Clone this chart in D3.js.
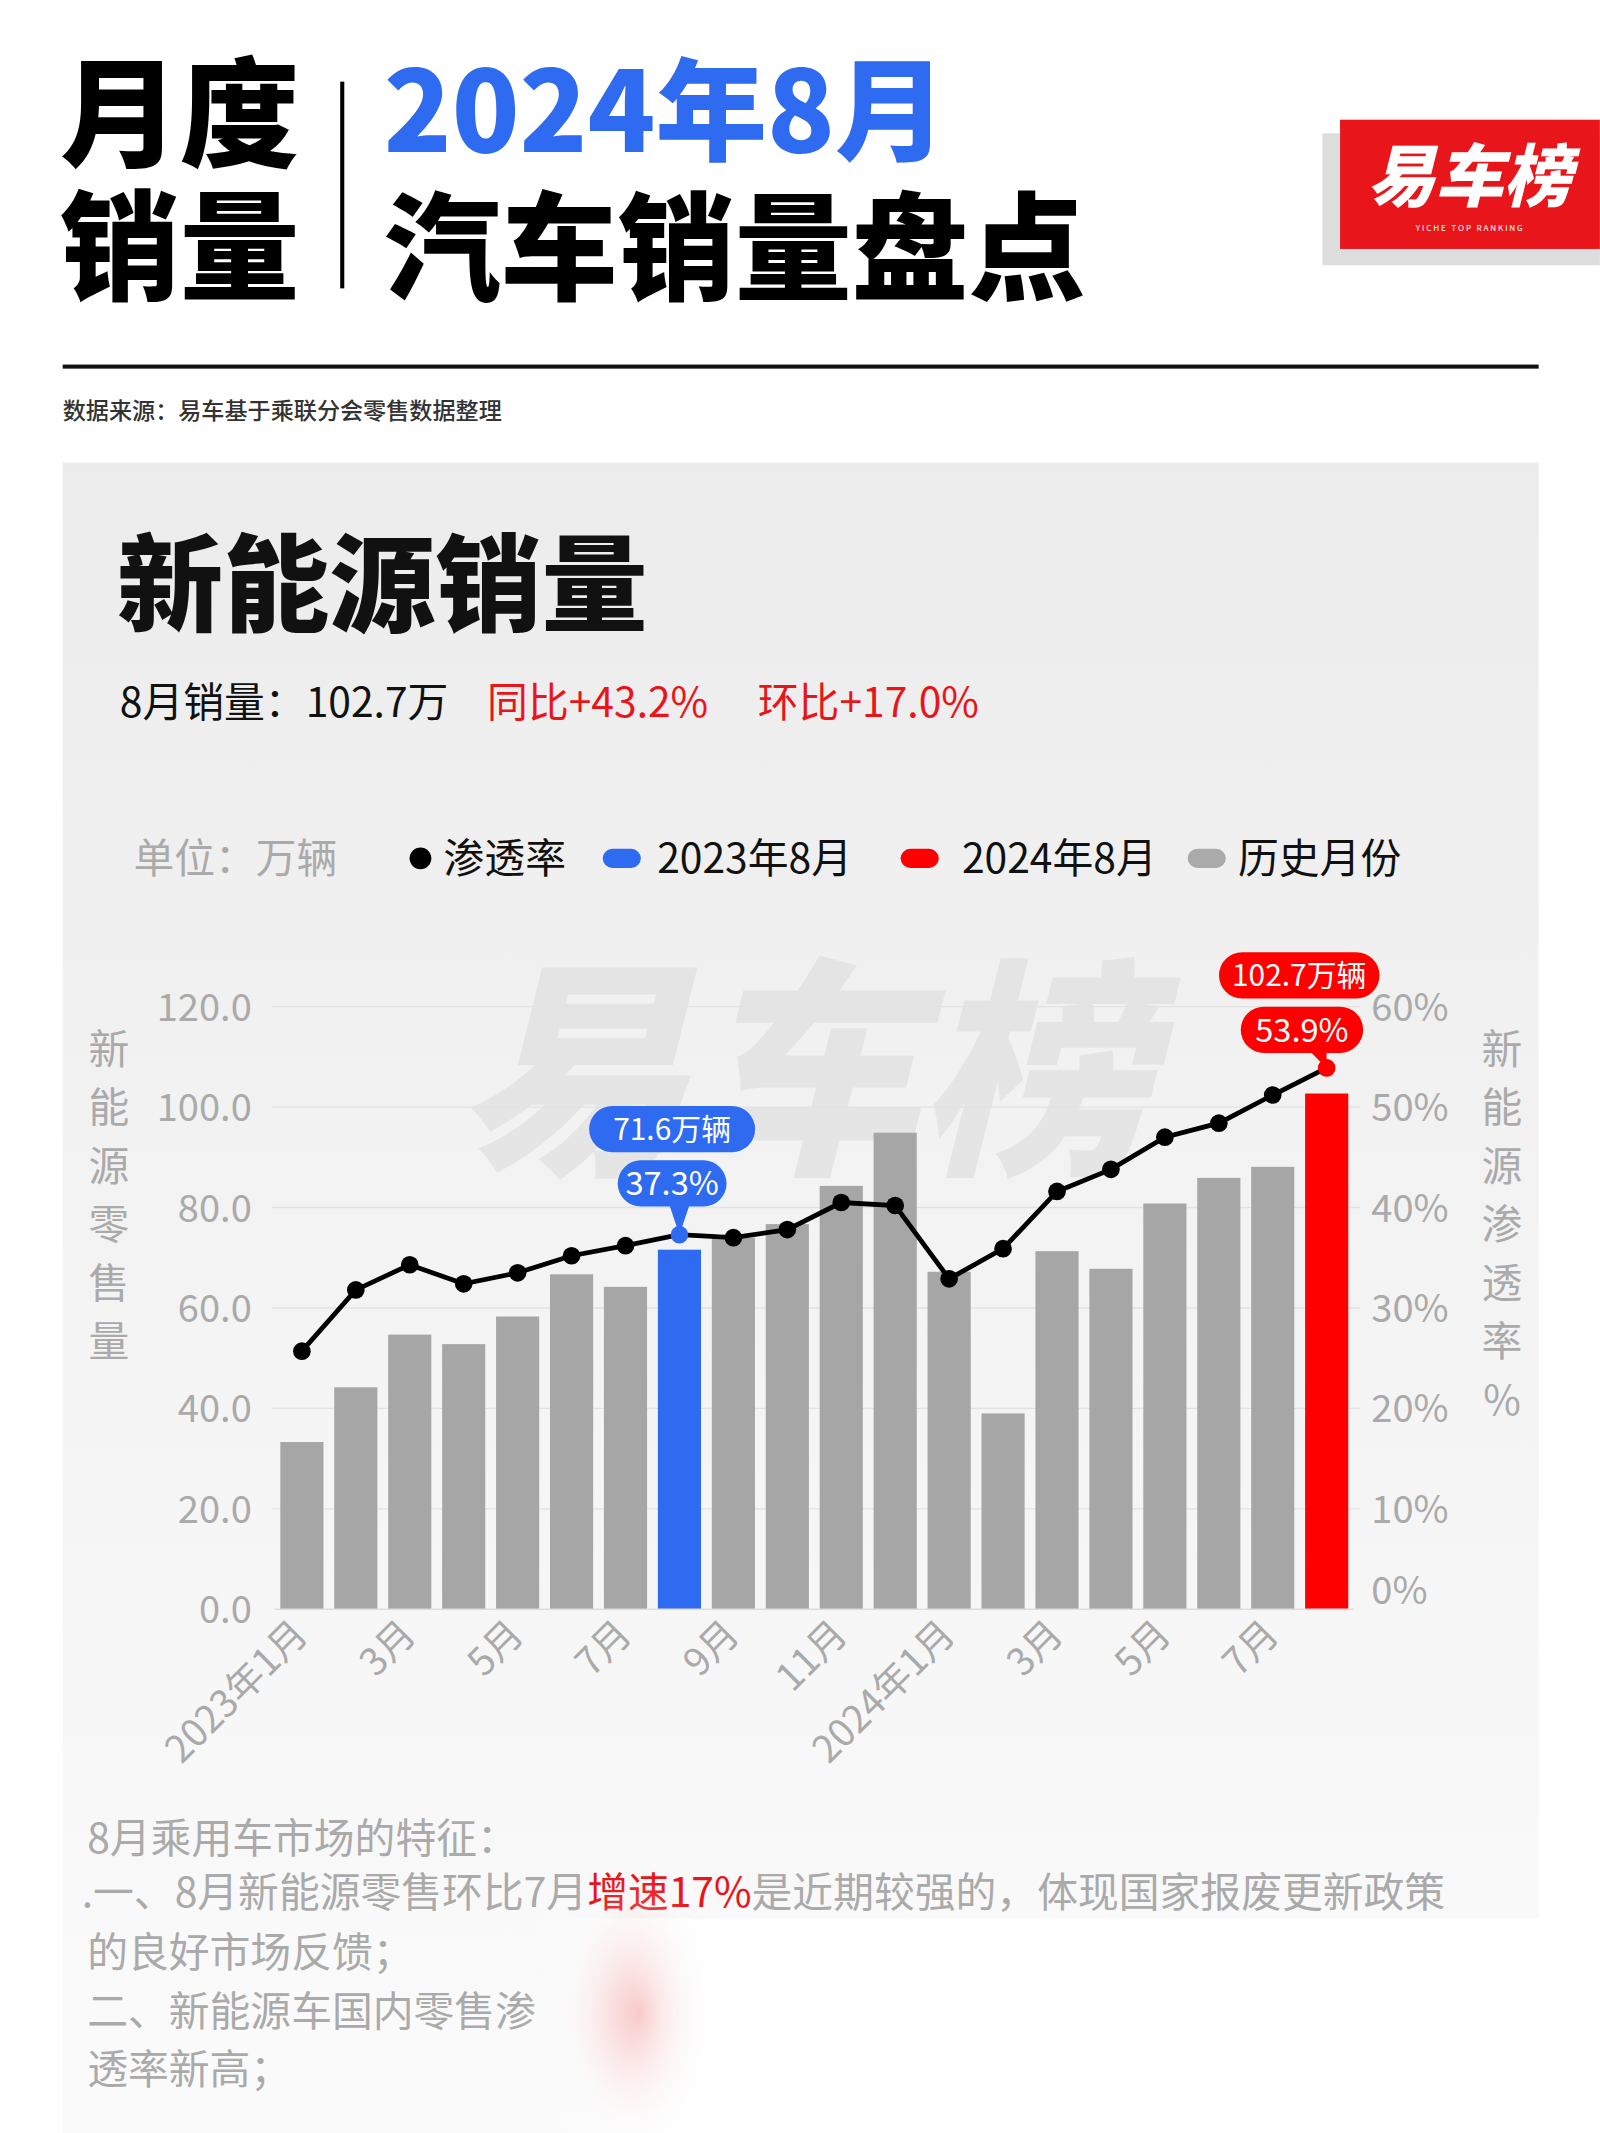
<!DOCTYPE html>
<html><head><meta charset="utf-8">
<script src="https://cdn.jsdelivr.net/npm/d3@7"></script>
<style>body{margin:0;background:#fff}svg{display:block;font-family:"Noto Sans CJK SC","Noto Sans",sans-serif}</style>
</head><body><svg id="c" width="1600" height="2133" viewBox="0 0 1176 1568"></svg>
<script>
const months=["2023年1月","2月","3月","4月","5月","6月","7月","8月","9月","10月","11月","12月","2024年1月","2月","3月","4月","5月","6月","7月","8月"];
const sales=[33.3,44.2,54.7,52.8,58.3,66.7,64.2,71.6,74.0,76.7,84.3,94.9,67.2,39.0,71.3,67.8,80.8,85.9,88.1,102.7];
const rate=[25.7,31.8,34.3,32.4,33.5,35.2,36.2,37.3,37.0,37.8,40.5,40.2,32.9,35.9,41.6,43.8,47.0,48.4,51.2,53.9];
const leftTicks=[0,20,40,60,80,100,120];
const rightTicks=[0,10,20,30,40,50,60];

const svg=d3.select("#c");
const defs=svg.append("defs");
const g1=defs.append("linearGradient").attr("id","pg").attr("x1",0).attr("y1",0).attr("x2",0).attr("y2",1);
g1.append("stop").attr("offset",0).attr("stop-color","#ececec");
g1.append("stop").attr("offset",1).attr("stop-color","#fbfbfb");
const g2=defs.append("linearGradient").attr("id","wg").attr("x1",0).attr("y1",0).attr("x2",1).attr("y2",0);
g2.append("stop").attr("offset",0).attr("stop-color","#fff").attr("stop-opacity",0);
g2.append("stop").attr("offset",0.2).attr("stop-color","#fff").attr("stop-opacity",1);
g2.append("stop").attr("offset",1).attr("stop-color","#fff").attr("stop-opacity",1);
const g3=defs.append("radialGradient").attr("id","rg");
g3.append("stop").attr("offset",0).attr("stop-color","#e66").attr("stop-opacity",0.8);
g3.append("stop").attr("offset",1).attr("stop-color","#fff").attr("stop-opacity",0);

const T=(x,y,t,o={})=>svg.append("text").attr("x",x).attr("y",y).text(t)
  .attr("font-size",o.s||20).attr("fill",o.c||"#000").attr("font-weight",o.w||400)
  .attr("text-anchor",o.a||"start");
T(44,116,"月度",{s:88,w:900});
T(44,214,"销量",{s:88,w:900});
svg.append("rect").attr("x",250).attr("y",60).attr("width",3).attr("height",152).attr("fill","#000");
T(282,112,"2024年8月",{s:82,w:900,c:"#2f6bf0"});
T(282,214,"汽车销量盘点",{s:86,w:900});
svg.append("rect").attr("x",972).attr("y",98).attr("width",204).attr("height",97).attr("fill","#ddd");
svg.append("rect").attr("x",985).attr("y",88).attr("width",191).attr("height",95).attr("fill","#e8161b");
T(1080,148,"易车榜",{s:50,w:900,c:"#fff",a:"middle"}).attr("font-style","italic");
T(1080,170,"Y I C H E   T O P   R A N K I N G",{s:6,c:"#fff",a:"middle"}).attr("xml:space","preserve");
svg.append("rect").attr("x",46).attr("y",268).attr("width",1085).attr("height",3).attr("fill","#111");
T(46,308,"数据来源：易车基于乘联分会零售数据整理",{s:17,c:"#333",w:500});

svg.append("rect").attr("x",46).attr("y",340).attr("width",1085).attr("height",1228).attr("fill","url(#pg)");
T(86,458,"新能源销量",{s:78,w:900,c:"#111"});
T(88,527,"8月销量：102.7万",{s:30,c:"#111"});
T(358,527,"同比+43.2%",{s:30,c:"#e8161b"});
T(557,527,"环比+17.0%",{s:30,c:"#e8161b"});

T(98,642,"单位：万辆",{s:30,c:"#aaa"});
svg.append("circle").attr("cx",309).attr("cy",631).attr("r",8).attr("fill","#000");
T(326,642,"渗透率",{s:30,c:"#111"});
svg.append("rect").attr("x",443).attr("y",624).attr("width",28).attr("height",14).attr("rx",7).attr("fill","#2f6bf0");
T(483,642,"2023年8月",{s:30,c:"#111"});
svg.append("rect").attr("x",662).attr("y",624).attr("width",28).attr("height",14).attr("rx",7).attr("fill","#f00");
T(707,642,"2024年8月",{s:30,c:"#111"});
svg.append("rect").attr("x",873).attr("y",624).attr("width",28).attr("height",14).attr("rx",7).attr("fill","#aaa");
T(910,642,"历史月份",{s:30,c:"#111"});

T(590,850,"易车榜",{s:170,w:900,c:"#e2e2e2",a:"middle"}).attr("font-style","italic").attr("opacity",0.8);

const idx=d3.range(months.length);
const x=d3.scaleBand().domain(idx).range([202,995]).paddingInner(0.2).paddingOuter(0.1);
const y=d3.scaleLinear().domain([0,120]).range([1183,740]);
const yr=d3.scaleLinear().domain([0,60]).range([1183,740]);

svg.append("g").selectAll("line").data(leftTicks.slice(1)).join("line")
 .attr("x1",200).attr("x2",1000).attr("y1",d=>y(d)).attr("y2",d=>y(d)).attr("stroke","#e2e2e2");
const la=svg.append("g").attr("transform","translate(185,0)").call(d3.axisLeft(y).tickValues(leftTicks).tickFormat(d3.format(".1f")).tickSize(0).tickPadding(0));
la.select(".domain").remove();
la.selectAll("text").attr("font-size",28).attr("fill","#aaa").attr("font-family","Noto Sans CJK SC").attr("dy","0.35em");
const ra=svg.append("g").attr("transform","translate(1008,0)").call(d3.axisRight(yr).tickValues(rightTicks).tickFormat(d=>d+"%").tickSize(0).tickPadding(0));
ra.select(".domain").remove();
ra.selectAll("text").attr("font-size",28).attr("fill","#aaa").attr("font-family","Noto Sans CJK SC").attr("dy",d=>d===0?"-0.15em":"0.35em");
"新能源零售量".split("").forEach((c,i)=>T(80,782+i*43,c,{s:30,c:"#aaa",a:"middle"}));
"新能源渗透率%".split("").forEach((c,i)=>T(1104,782+i*43,c,{s:30,c:"#aaa",a:"middle"}));

svg.append("g").selectAll("rect").data(idx).join("rect")
 .attr("x",d=>x(d)).attr("width",x.bandwidth())
 .attr("y",i=>y(sales[i])).attr("height",i=>y(0)-y(sales[i]))
 .attr("fill",i=>i===7?"#2f6bf0":i===19?"#f00":"#a6a6a6");
svg.append("line").attr("x1",202).attr("x2",995).attr("y1",y(0)).attr("y2",y(0)).attr("stroke","#ddd");

const cxm=i=>x(i)+x.bandwidth()/2;
idx.forEach(i=>{
  if(i%2) return;
  svg.append("text").attr("transform",`translate(${cxm(i)+6},${1203}) rotate(-45)`).attr("text-anchor","end")
   .attr("font-size",28).attr("fill","#aaa").text(months[i]);
});

svg.append("path").datum(rate).attr("fill","none").attr("stroke","#000").attr("stroke-width",3.5)
 .attr("d",d3.line().x((d,i)=>cxm(i)).y(d=>yr(d)));
svg.append("g").selectAll("circle").data(rate).join("circle")
 .attr("cx",(d,i)=>cxm(i)).attr("cy",d=>yr(d)).attr("r",6.5)
 .attr("fill",(d,i)=>i===7?"#2f6bf0":i===19?"#f00":"#000");

function pill(cx,cy,w,h,txt,col,sz){
  svg.append("rect").attr("x",cx-w/2).attr("y",cy-h/2).attr("width",w).attr("height",h).attr("rx",h/2).attr("fill",col);
  T(cx,cy+sz*0.36,txt,{s:sz,c:"#fff",a:"middle"});
}
svg.append("path").attr("d",`M${cxm(7)-8},884 L${cxm(7)},${yr(rate[7])} L${cxm(7)+8},884Z`).attr("fill","#2f6bf0");
pill(494,830,122,34,sales[7]+"万辆","#2f6bf0",22);
pill(494,870,80,34,rate[7]+"%","#2f6bf0",24);
svg.append("path").attr("d",`M960,770 L${cxm(19)},${yr(rate[19])} L975,766Z`).attr("fill","#f00");
pill(955,717,118,34,sales[19]+"万辆","#f00",22);
pill(957,757,90,34,rate[19]+"%","#f00",24);

T(64,1362,"8月乘用车市场的特征：",{s:30,c:"#aaa"});
const l2=svg.append("text").attr("x",60).attr("y",1402).attr("font-size",30).attr("fill","#aaa");
l2.append("tspan").text(".一、8月新能源零售环比7月");
l2.append("tspan").attr("fill","#e8161b").text("增速17%");
l2.append("tspan").text("是近期较强的，体现国家报废更新政策");
T(64,1446,"的良好市场反馈；",{s:30,c:"#aaa"});
T(64,1489,"二、新能源车国内零售渗",{s:30,c:"#aaa"});
T(64,1532,"透率新高；",{s:30,c:"#aaa"});
svg.append("ellipse").attr("cx",470).attr("cy",1480).attr("rx",60).attr("ry",100).attr("fill","url(#rg)");
svg.append("rect").attr("x",380).attr("y",1410).attr("width",796).attr("height",158).attr("fill","url(#wg)");
</script></body></html>
